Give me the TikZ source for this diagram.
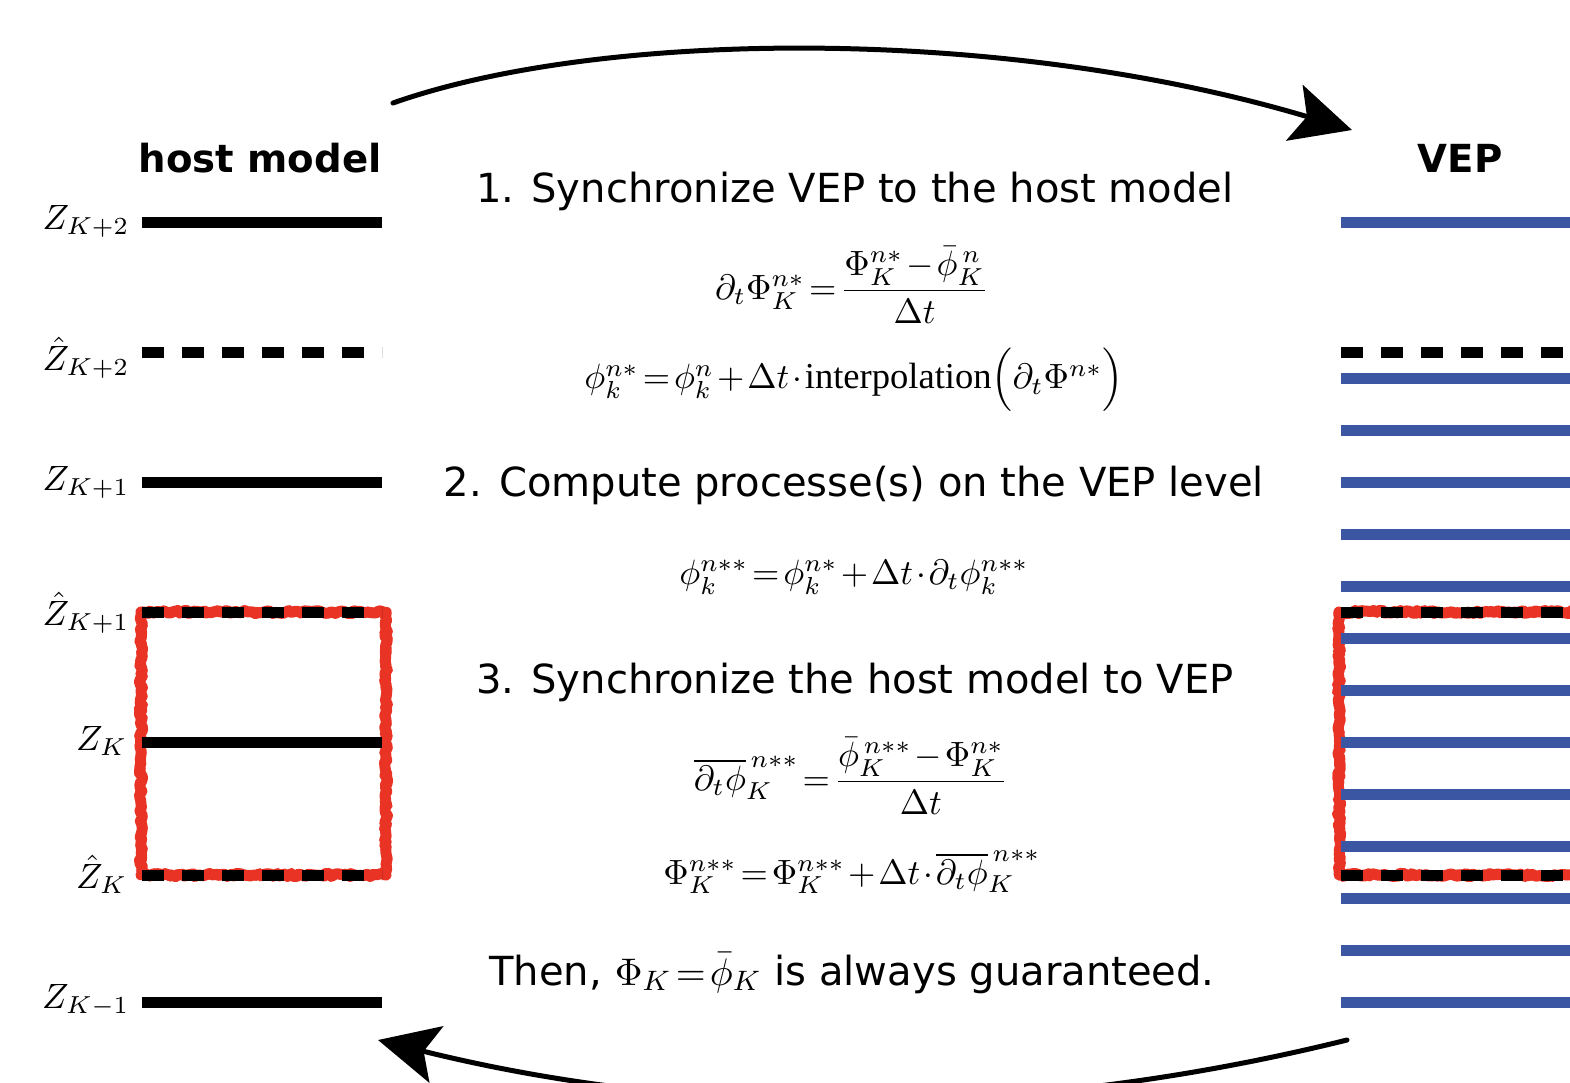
\documentclass[tikz,border=0pt]{standalone}
\usepackage{amsmath}
\usepackage{fontspec}
\setmainfont{DejaVu Sans}
\newfontfamily\serifrm{Liberation Serif}
\usepackage{tikz}
\usetikzlibrary{arrows.meta,decorations.pathmorphing}

\definecolor{vepblue}{RGB}{59,87,163}
\definecolor{boxred}{RGB}{233,51,36}

\newcommand{\tightmath}{\thickmuskip=2mu\medmuskip=1.5mu}

\tikzset{
  hostline/.style={line width=0.11cm},
  hatline/.style={line width=0.11cm, dash pattern=on 0.22cm off 0.18cm},
  vepline/.style={line width=0.11cm, draw=vepblue},
  roughbox/.style={draw=boxred, line width=0.11cm, line join=round, decorate,
    decoration={random steps, segment length=0.8pt, amplitude=0.45pt}},
  fuzzbox/.style={draw=boxred, line width=0.05cm, line join=round, line cap=round, decorate,
    decoration={random steps, segment length=0.6pt, amplitude=0.9pt}},
  steptext/.style={font=\fontsize{11.4}{13}\selectfont, anchor=base},
  headtext/.style={font=\fontsize{11}{13}\selectfont\bfseries, anchor=base},
  eqn/.style={font=\fontsize{10.4}{12}\selectfont\tightmath, inner sep=1pt},
  zlabel/.style={font=\fontsize{10.2}{12}\selectfont, anchor=base east, inner sep=0pt},
  syncarrow/.style={line width=0.05cm, line cap=round,
    -{Stealth[length=0.6cm,width=0.58cm,inset=0.13cm]}},
}

\begin{document}
\begin{tikzpicture}[x=1cm,y=-1cm]
  \useasboundingbox (0,0) rectangle (15.70,10.82);
  \clip (0,0) rectangle (15.70,10.82);
  \pgfmathsetseed{7}

  % red boxes round the K layer
  \draw[roughbox] (1.41,6.12) rectangle (3.86,8.75);
  \draw[fuzzbox] (1.41,6.12) rectangle (3.86,8.75);
  \draw[roughbox] (15.90,6.12) -- (13.39,6.12) -- (13.39,8.75) -- (15.90,8.75);
  \draw[fuzzbox] (15.90,6.12) -- (13.39,6.12) -- (13.39,8.75) -- (15.90,8.75);

  % host model levels
  \draw[hostline] (1.42,2.22) -- (3.82,2.22);
  \draw[hatline]  (1.42,3.52) -- (3.82,3.52);
  \draw[hostline] (1.42,4.82) -- (3.82,4.82);
  \draw[hatline]  (1.42,6.12) -- (3.82,6.12);
  \draw[hostline] (1.42,7.42) -- (3.82,7.42);
  \draw[hatline]  (1.42,8.75) -- (3.82,8.75);
  \draw[hostline] (1.42,10.02) -- (3.82,10.02);

  % VEP levels
  \foreach \y in {2.22,3.78,4.30,4.82,5.34,5.86,6.38,6.90,7.42,7.94,8.46,8.98,9.50,10.02}
    \draw[vepline] (13.41,\y) -- (15.80,\y);
  \foreach \y in {3.52,6.12,8.75}
    \draw[hatline] (13.41,\y) -- (15.80,\y);

  \node[zlabel] (zkp2)  at (1.30,2.29)  {$Z_{K+2}$};
  \node[zlabel] (zhkp2) at (1.30,3.70)  {$\hat{Z}_{K+2}$};
  \node[zlabel] (zkp1)  at (1.30,4.90)  {$Z_{K+1}$};
  \node[zlabel] (zhkp1) at (1.30,6.25)  {$\hat{Z}_{K+1}$};
  \node[zlabel] (zk)    at (1.28,7.50)  {$Z_{K}$};
  \node[zlabel] (zhk)   at (1.28,8.88)  {$\hat{Z}_{K}$};
  \node[zlabel] (zkm1)  at (1.30,10.08) {$Z_{K-1}$};

  \node[headtext] (hostmodel) at (2.60,1.72) {host model};
  \node[headtext] (vep) at (14.60,1.72) {VEP};

  % the three steps
  \node[steptext] (step1) at (8.55,2.02) {1. Synchronize VEP to the host model};
  \node[eqn] (eqa) at (8.52,2.85)
    {$\partial_t\Phi^{n*}_K=\dfrac{\Phi^{n*}_K-\bar{\phi}^{\,n}_K}{\Delta t}$};
  \node[eqn] (eqb) at (8.54,3.80)
    {$\phi^{n*}_k=\phi^{n}_k+\Delta t\cdot\text{\serifrm interpolation}\Big(\partial_t\Phi^{n*}\Big)$};
  \node[steptext] (step2) at (8.54,4.96) {2. Compute processe(s) on the VEP level};
  \node[eqn] (eqc) at (8.54,5.77)
    {$\phi^{n**}_k=\phi^{n*}_k+\Delta t\cdot\partial_t\phi^{n**}_k$};
  \node[steptext] (step3) at (8.55,6.93) {3. Synchronize the host model to VEP};
  \node[eqn] (eqd) at (8.51,7.76)
    {$\overline{\partial_t\phi}^{\,n**}_K=\dfrac{\bar{\phi}^{\,n**}_K-\Phi^{n*}_K}{\Delta t}$};
  \node[eqn] (eqe) at (8.52,8.72)
    {$\Phi^{n**}_K=\Phi^{n**}_K+\Delta t\cdot\overline{\partial_t\phi}^{\,n**}_K$};
  \node[steptext] (thenline) at (8.52,9.85)
    {Then, $\tightmath\Phi_K=\bar{\phi}_K$ is always guaranteed.};

  % exchange between the two grids
  \coordinate (hostout) at (3.93,1.03);
  \coordinate (vepin) at (13.52,1.30);
  \coordinate (vepout) at (13.47,10.40);
  \coordinate (hostin) at (3.78,10.40);
  \draw[syncarrow] (hostout) .. controls (6.00,0.30) and (10.00,0.25) .. (vepin);
  \draw[syncarrow] (vepout) .. controls (10.24,11.20) and (7.01,11.20) .. (hostin);
\end{tikzpicture}
\end{document}
